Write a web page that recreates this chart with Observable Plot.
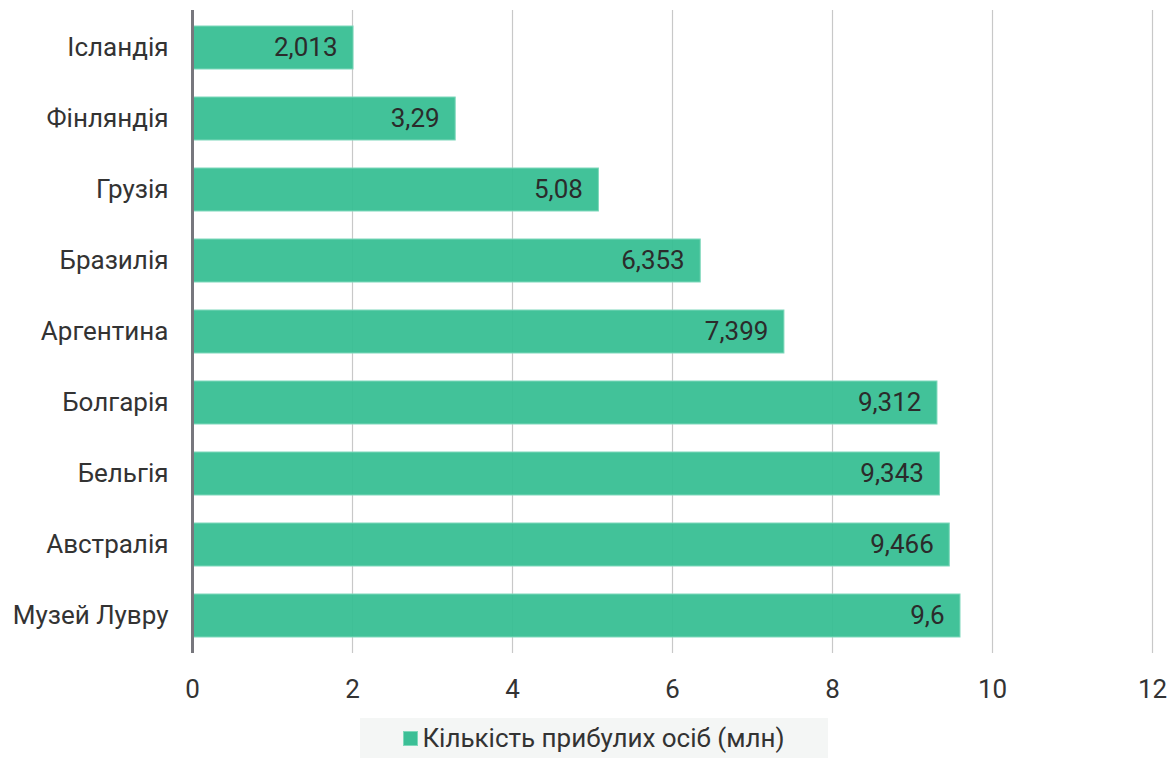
<!DOCTYPE html>
<html>
<head>
<meta charset="utf-8">
<script src="https://cdn.jsdelivr.net/npm/d3@7"></script>
<script src="https://cdn.jsdelivr.net/npm/@observablehq/plot@0.6"></script>
<style>
  html, body { margin: 0; padding: 0; background: #fff; }
  body { font-family: Roboto, "Liberation Sans", sans-serif; }
  #legend { position: absolute; left: 360px; top: 718px; width: 468px; height: 40px;
    background: #f4f6f5; display: flex; align-items: center; justify-content: center;
    font-size: 26px; color: #333; }
  #legend .sw { display: inline-block; width: 15px; height: 15px; background: #3bbf96; margin-right: 4px; border: 1px solid #7fd8bb; box-sizing: border-box; }
</style>
</head>
<body>
<div id="chart"></div>
<div id="legend"><span class="sw"></span><span>Кількість прибулих осіб (млн)</span></div>
<script>
const categories = ["Ісландія", "Фінляндія", "Грузія", "Бразилія", "Аргентина", "Болгарія", "Бельгія", "Австралія", "Музей Лувру"];
const values = [2.013, 3.29, 5.08, 6.353, 7.399, 9.312, 9.343, 9.466, 9.6];
const xTicks = [0, 2, 4, 6, 8, 10, 12];
const seriesName = "Кількість прибулих осіб (млн)";

const data = categories.map((c, i) => ({category: c, value: values[i]}));
const fmt = v => String(v).replace(".", ",");

const chart = Plot.plot({
  width: 1169,
  height: 710,
  marginLeft: 192,
  marginRight: 17,
  marginTop: 10,
  marginBottom: 57,
  style: {fontFamily: "Roboto, 'Liberation Sans', sans-serif", fontSize: "26px", color: "#333", background: "#fff"},
  x: {domain: [0, 12], ticks: xTicks, label: null},
  y: {domain: categories, label: null, paddingInner: 0.4, paddingOuter: 0.2},
  marks: [
    Plot.ruleX(xTicks.filter(d => d > 0), {stroke: "#c8c8c8", strokeWidth: 1.2, strokeOpacity: 1}),
    Plot.barX(data, {y: "category", x: "value", fill: "#38bf94", fillOpacity: 0.95, stroke: "#7fd8bb", strokeWidth: 1}),
    Plot.text(data, {y: "category", x: "value", text: d => fmt(d.value), textAnchor: "end", dx: -16, fill: "#2b2b2b", fontSize: 26}),
    Plot.ruleX([0], {stroke: "#77777d", strokeWidth: 3}),
    Plot.axisX({ticks: xTicks, tickSize: 0, tickPadding: 26, fontSize: 26, fill: "#333", label: null}),
    Plot.axisY({tickSize: 0, tickPadding: 24, fontSize: 26, fill: "#333", label: null})
  ]
});
document.getElementById("chart").appendChild(chart);
</script>
</body>
</html>
